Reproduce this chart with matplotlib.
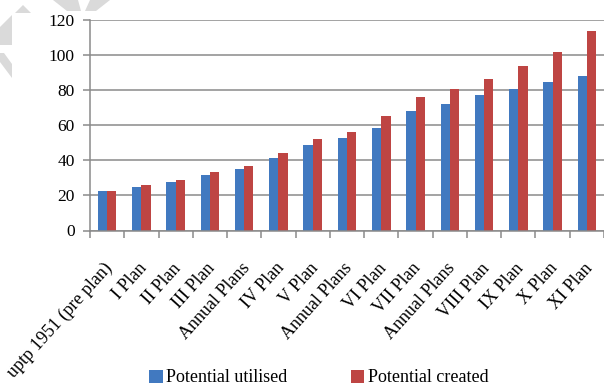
import numpy as np
import matplotlib.pyplot as plt
from matplotlib.patches import Polygon
from matplotlib.transforms import ScaledTranslation

plt.rcParams['font.family'] = ['Liberation Serif', 'DejaVu Serif']

# irrigation potential by plan period
plans = ['uptp 1951 (pre plan)', 'I Plan', 'II Plan', 'III Plan', 'Annual Plans',
         'IV Plan', 'V Plan', 'Annual Plans', 'VI Plan', 'VII Plan',
         'Annual Plans', 'VIII Plan', 'IX Plan', 'X Plan', 'XI Plan']
utilised = [22.6, 24.8, 27.5, 31.6, 34.9, 41.2, 48.4, 52.6, 58.4, 68.0,
            72.2, 77.2, 80.4, 84.7, 87.7]
created = [22.6, 26.0, 28.7, 33.1, 36.4, 44.1, 52.1, 56.0, 65.1, 76.2,
           80.4, 86.0, 93.8, 101.6, 113.3]
series_names = ['Potential utilised', 'Potential created']
yticks = [0, 20, 40, 60, 80, 100, 120]

BLUE = '#4179c0'
RED = '#be4543'
GREY = '#8a8a8a'
W = 604
H = 388

fig = plt.figure(figsize=(W / 100, H / 100), dpi=100)
ax = fig.add_axes([90 / W, 157.5 / H, 1 - 90 / W, 211 / H])

x = np.arange(len(plans))
bw = 0.27
ax.bar(x - bw / 2, utilised, bw, color=BLUE, label=series_names[0], zorder=2)
ax.bar(x + bw / 2, created, bw, color=RED, label=series_names[1], zorder=2)

ax.set_ylim(0, 120)
ax.set_xlim(-0.5, (W - 90) / 35 - 0.5)
ax.set_yticks(yticks)
ax.yaxis.grid(True, color=GREY, lw=1.1)
ax.set_axisbelow(True)

for side in ['top', 'right']:
    ax.spines[side].set_visible(False)
for side in ['left', 'bottom']:
    ax.spines[side].set_color(GREY)
    ax.spines[side].set_linewidth(1.1)

# labels sit at category centres, tick marks at the boundaries
ax.set_xticks(x)
ax.set_xticklabels(plans, rotation=48, ha='right', va='baseline',
                   rotation_mode='anchor', fontsize=13)
ax.set_xticks(np.arange(len(plans) + 1) - 0.5, minor=True)
ax.tick_params(axis='x', which='major', length=0, pad=0)
ax.tick_params(axis='x', which='minor', length=5, width=1.1, color=GREY,
               direction='out')
ax.tick_params(axis='y', length=5, width=1.1, color=GREY, pad=6,
               labelsize=12.5)

# push the slanted labels down and a little right of their bars
shift = ScaledTranslation(0.06, -0.38, fig.dpi_scale_trans)
for lab in ax.get_xticklabels():
    lab.set_transform(lab.get_transform() + shift)

fig.legend(loc='center', bbox_to_anchor=(319 / W, 0.026), ncol=2,
           frameon=False, fontsize=13, handlelength=0.75, handleheight=0.75,
           handletextpad=0.2, columnspacing=3.5, borderaxespad=0)

# faint watermark shapes in the top-left corner
marks = [
    [(15, 13), (23, 5), (31, 13)],
    [(53, 0), (78, 0), (81, 11), (67, 11)],
    [(90, 0), (110, 0), (96, 11), (85, 11)],
    [(12, 15), (12, 45), (0, 45), (0, 27)],
    [(0, 53), (4, 53), (12, 64), (12, 78), (0, 62)],
]
for pts in marks:
    fig.add_artist(Polygon([(px / W, 1 - py / H) for px, py in pts],
                           closed=True, transform=fig.transFigure,
                           facecolor='#dadada', edgecolor='none'))

fig.savefig('out.png', dpi=100)
